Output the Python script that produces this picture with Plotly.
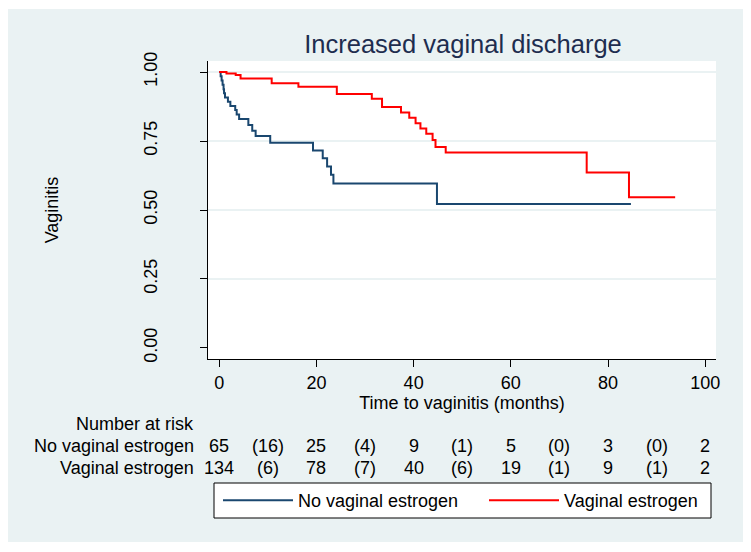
import plotly.graph_objects as go

# ---- data ----
no_ve_time = [0, 0.3, 0.5, 0.7, 0.9, 1.0, 1.2, 1.8, 2.3, 3.3, 3.6, 4.1, 6.0, 6.8, 7.5,
              10.5, 19.3, 21.3, 22.2, 23.0, 23.5, 44.8, 84.7]
no_ve_surv = [1.0, 0.985, 0.969, 0.954, 0.938, 0.923, 0.908, 0.892, 0.877, 0.862, 0.846,
              0.830, 0.808, 0.787, 0.768, 0.744, 0.716, 0.688, 0.658, 0.628, 0.596, 0.522, 0.522]

ve_time = [0, 1.5, 3.4, 4.4, 10.8, 16.3, 24.2, 31.4, 33.5, 37.4, 39.1, 40.4, 41.4, 42.6,
           43.9, 44.5, 46.6, 75.6, 84.3, 93.8]
ve_surv = [1.0, 0.995, 0.989, 0.977, 0.959, 0.947, 0.920, 0.903, 0.873, 0.853, 0.834, 0.814,
           0.795, 0.776, 0.754, 0.728, 0.708, 0.636, 0.546, 0.546]

risk_times = [0, 10, 20, 30, 40, 50, 60, 70, 80, 90, 100]
risk_no_ve = ["65", "(16)", "25", "(4)", "9", "(1)", "5", "(0)", "3", "(0)", "2"]
risk_ve = ["134", "(6)", "78", "(7)", "40", "(6)", "19", "(1)", "9", "(1)", "2"]

x_ticks = [0, 20, 40, 60, 80, 100]
y_ticks = [0, 0.25, 0.5, 0.75, 1.0]
y_tick_text = ["0.00", "0.25", "0.50", "0.75", "1.00"]

NAVY = "#1a476f"
RED = "#ff0000"
BG = "#eaf2f3"
FONT = "Liberation Sans, Arial, sans-serif"

W, H = 751, 552
L, R, T, B = 208, 35, 61, 193
pw, ph = W - L - R, H - T - B


def px_x(p):
    return (p - L) / pw


def px_y(p):
    return (H - B - p) / ph


fig = go.Figure()
fig.add_trace(go.Scatter(x=no_ve_time, y=no_ve_surv, mode="lines", line=dict(color=NAVY, width=2, shape="hv"),
                         name="No vaginal estrogen", legend="legend"))
fig.add_trace(go.Scatter(x=ve_time, y=ve_surv, mode="lines", line=dict(color=RED, width=2, shape="hv"),
                         name="Vaginal estrogen", legend="legend2"))
# invisible trace on secondary y axis for gridlines
fig.add_trace(go.Scatter(x=[0], y=[0], yaxis="y2", mode="markers", marker=dict(opacity=0),
                         showlegend=False, hoverinfo="skip"))

annotations = []
annotations.append(dict(text="Number at risk", xref="paper", yref="paper", x=px_x(196), y=px_y(424),
                        xanchor="right", yanchor="middle", showarrow=False, font=dict(size=18, color="black")))
for label, row, yp in [("No vaginal estrogen", risk_no_ve, 446), ("Vaginal estrogen", risk_ve, 468)]:
    annotations.append(dict(text=label, xref="paper", yref="paper", x=px_x(196), y=px_y(yp),
                            xanchor="right", yanchor="middle", showarrow=False, font=dict(size=18, color="black")))
    for t, v in zip(risk_times, row):
        annotations.append(dict(text=v, xref="x", yref="paper", x=t, y=px_y(yp), xanchor="center",
                                yanchor="middle", showarrow=False, font=dict(size=18, color="black")))

shapes = [
    dict(type="rect", xref="paper", yref="paper", x0=px_x(8), x1=px_x(743), y0=px_y(542), y1=px_y(9),
         fillcolor=BG, line=dict(width=0), layer="below"),
    dict(type="rect", xref="paper", yref="paper", x0=0, x1=1, y0=0, y1=1,
         fillcolor="white", line=dict(width=0), layer="below"),
    # legend frame
    dict(type="rect", xref="paper", yref="paper", x0=px_x(214), x1=px_x(711), y0=px_y(518), y1=px_y(483),
         fillcolor="white", line=dict(width=1, color="black"), layer="below"),
]

legend_common = dict(orientation="h", xref="container", yref="container", xanchor="left", yanchor="middle",
                     y=1 - 500.5 / H, bgcolor="rgba(0,0,0,0)", borderwidth=0, font=dict(size=18),
                     itemwidth=70)

fig.update_layout(
    width=W, height=H,
    margin=dict(l=L, r=R, t=T, b=B, autoexpand=False),
    paper_bgcolor="white", plot_bgcolor="white",
    font=dict(family=FONT, size=18, color="black"),
    title=dict(text="Increased vaginal discharge", x=px_x(463), xref="paper", xanchor="center",
               y=1 - 44 / H, yanchor="middle", font=dict(size=25.5, color="#1e2d4f")),
    xaxis=dict(range=[-2.3, 102.2], tickvals=x_ticks, ticks="outside", ticklen=7, tickcolor="black",
               showline=True, linecolor="black", linewidth=1, showgrid=False, zeroline=False,
               tickfont=dict(size=18),
               title=dict(text="Time to vaginitis (months)", standoff=0, font=dict(size=18))),
    yaxis=dict(range=[-0.04, 1.04], tickvals=y_ticks, ticktext=y_tick_text, ticks="outside", ticklen=7,
               tickcolor="black", tickangle=-90, showline=True, linecolor="black", linewidth=1,
               showgrid=False, zeroline=False, tickfont=dict(size=18), ticklabelstandoff=36,
               title=dict(text="Vaginitis", standoff=77, font=dict(size=18))),
    yaxis2=dict(range=[-0.04, 1.04], overlaying="y", tickvals=[0.25, 0.5, 0.75, 1.0], showticklabels=False,
                showgrid=True, gridcolor=BG, gridwidth=1.5, zeroline=False, showline=False, ticks=""),
    legend=dict(x=218 / W, **legend_common),
    legend2=dict(x=484 / W, **legend_common),
    showlegend=True,
    annotations=annotations,
    shapes=shapes,
)

fig.write_html("out.html", config={"displayModeBar": False},
               post_script="document.body.style.margin='0px';")
